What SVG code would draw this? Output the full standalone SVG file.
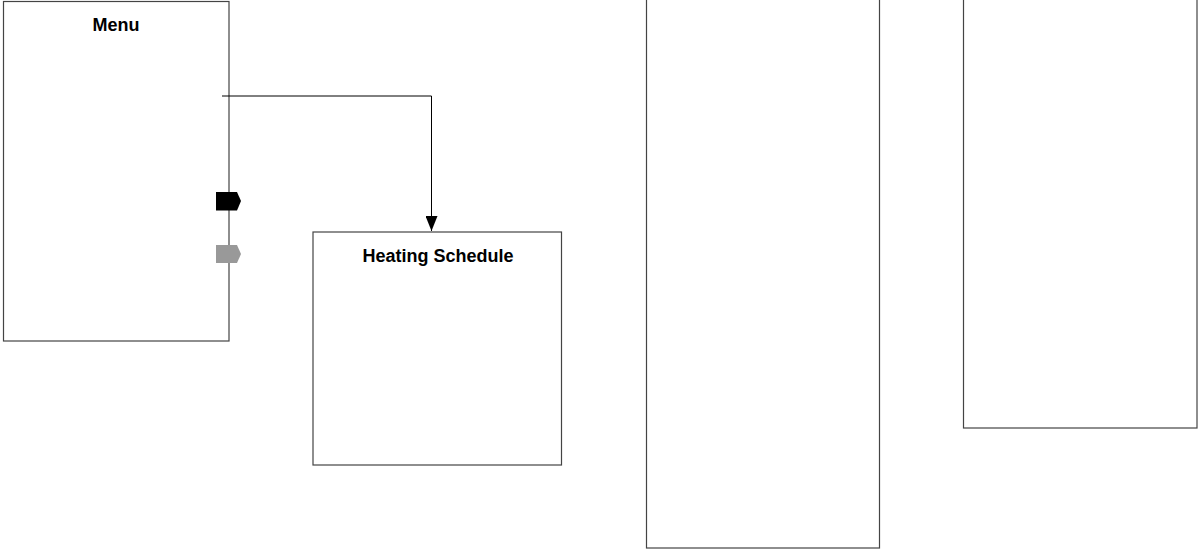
<svg xmlns="http://www.w3.org/2000/svg" width="1199" height="549" viewBox="0 0 1199 549">
  <style>
    .box { fill: #ffffff; stroke: #444444; stroke-width: 1.2; }
    .title { font-family: "Liberation Sans", Arial, sans-serif; font-weight: bold; font-size: 18px; fill: #000000; text-anchor: middle; }
    .conn { fill: none; stroke: #000000; stroke-width: 1; }
  </style>
  <defs>
    <marker id="arrow" viewBox="0 0 15 12" refX="15" refY="6" markerWidth="15" markerHeight="12" markerUnits="userSpaceOnUse" orient="auto">
      <path d="M0,0 L15,6 L0,12 Z" fill="#000000"/>
    </marker>
  </defs>
  <rect width="1199" height="549" fill="#ffffff"/>
  <g id="menu">
    <rect class="box" x="3.5" y="1.5" width="225.5" height="339.5"/>
    <text class="title" x="116" y="31">Menu</text>
    <path d="M216,192 H237 L241,201 L237,210.5 H216 Z" fill="#000000"/>
    <path d="M216,245 H237 L241,254 L237,263 H216 Z" fill="#999999"/>
  </g>
  <g id="heating-schedule">
    <rect class="box" x="313" y="232" width="248.5" height="233"/>
    <text class="title" x="438" y="262">Heating Schedule</text>
  </g>
  <g id="panel-3">
    <rect class="box" x="646.5" y="-5" width="233" height="553"/>
  </g>
  <g id="panel-4">
    <rect class="box" x="963.5" y="-5" width="233.5" height="433"/>
  </g>
  <g id="connectors">
    <path class="conn" d="M222,96 H431.5 V231" marker-end="url(#arrow)"/>
  </g>
</svg>
